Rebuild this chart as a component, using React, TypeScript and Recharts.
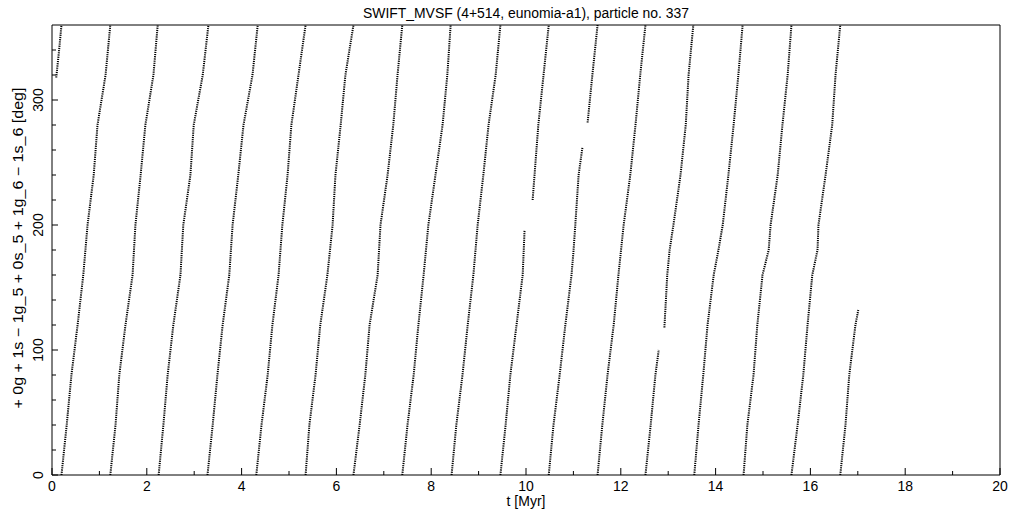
import React from 'react';
import { LineChart, Line, XAxis, YAxis } from 'recharts';

const DEG_A = [0, 40, 80, 120, 160, 200, 240, 280, 320, 360];
const DEG_B = [0, 40, 80, 120, 160, 180, 200, 240, 280, 320, 360];

// times (Myr) of each circulation stripe
const s0T = [0.09, 0.15, 0.2];
const s0D = [318, 340, 360];
const s1T = [0.2, 0.31, 0.41, 0.54, 0.66, 0.75, 0.88, 0.96, 1.13, 1.23];
const s2T = [1.23, 1.34, 1.42, 1.55, 1.7, 1.76, 1.87, 1.97, 2.14, 2.23];
const s3T = [2.25, 2.35, 2.44, 2.56, 2.71, 2.77, 2.92, 2.99, 3.18, 3.3];
const s4T = [3.28, 3.39, 3.49, 3.6, 3.74, 3.81, 3.93, 4.04, 4.23, 4.34];
const s5T = [4.31, 4.42, 4.55, 4.65, 4.78, 4.86, 4.97, 5.05, 5.2, 5.35];
const s6T = [5.35, 5.43, 5.56, 5.66, 5.81, 5.92, 5.98, 6.09, 6.19, 6.36];
const s7T = [6.36, 6.49, 6.61, 6.7, 6.87, 6.93, 7.08, 7.2, 7.29, 7.39];
const s8T = [7.39, 7.5, 7.63, 7.73, 7.84, 7.94, 8.09, 8.24, 8.34, 8.41];
const s9T = [8.43, 8.53, 8.66, 8.77, 8.89, 8.98, 9.1, 9.21, 9.36, 9.46];
const s10aT = [9.46, 9.57, 9.67, 9.8, 9.93, 9.97];
const s10aD = [0, 40, 80, 120, 160, 196];
const s10bT = [10.14, 10.18, 10.26, 10.37, 10.48];
const s10bD = [220, 240, 280, 320, 360];
const s11aT = [10.48, 10.58, 10.71, 10.83, 10.96, 11.0, 11.04, 11.11, 11.19];
const s11aD = [0, 40, 80, 120, 160, 178, 200, 240, 262];
const s11bT = [11.3, 11.4, 11.51];
const s11bD = [282, 320, 360];
const s12T = [11.51, 11.61, 11.72, 11.85, 11.95, 12.06, 12.2, 12.31, 12.41, 12.52];
const s13aT = [12.52, 12.63, 12.73, 12.8];
const s13aD = [0, 40, 80, 100];
const s13bT = [12.92, 12.98, 13.03, 13.11, 13.26, 13.37, 13.43, 13.53];
const s13bD = [118, 160, 180, 200, 240, 280, 320, 360];
const s14T = [13.55, 13.64, 13.74, 13.83, 13.96, 14.06, 14.15, 14.27, 14.38, 14.48, 14.57];
const s15T = [14.59, 14.67, 14.8, 14.88, 14.99, 15.12, 15.16, 15.31, 15.41, 15.52, 15.6];
const s16T = [15.6, 15.73, 15.85, 15.94, 16.04, 16.15, 16.17, 16.32, 16.46, 16.53, 16.63];
const s17T = [16.63, 16.74, 16.82, 16.95, 17.01];
const s17D = [0, 40, 80, 120, 132];

const X_TICKS = Array.from({ length: 21 }, (_, i) => i);
const Y_TICKS = Array.from({ length: 18 }, (_, i) => i * 20);

const segments: [number[], number[]][] = [
  [s0T, s0D], [s1T, DEG_A], [s2T, DEG_A], [s3T, DEG_A], [s4T, DEG_A],
  [s5T, DEG_A], [s6T, DEG_A], [s7T, DEG_A], [s8T, DEG_A], [s9T, DEG_A],
  [s10aT, s10aD], [s10bT, s10bD], [s11aT, s11aD], [s11bT, s11bD],
  [s12T, DEG_A], [s13aT, s13aD], [s13bT, s13bD], [s14T, DEG_B],
  [s15T, DEG_B], [s16T, DEG_B], [s17T, s17D],
];

const W = 1021;
const H = 511;
const PLOT = { left: 52, right: 1000, top: 25, bottom: 475 };
const FONT = '"Liberation Sans", Arial, sans-serif';

const BottomTick = (p: any) => {
  const v = p.payload.value;
  const major = v % 2 === 0;
  return (
    <g>
      <line x1={p.x} x2={p.x} y1={PLOT.bottom} y2={PLOT.bottom - (major ? 7 : 4)} stroke="#000" />
      {major && (
        <text x={p.x} y={PLOT.bottom + 16} textAnchor="middle" fontSize={14} fontFamily={FONT} fill="#000">
          {v}
        </text>
      )}
    </g>
  );
};

const TopTick = (p: any) => {
  const major = p.payload.value % 2 === 0;
  return <line x1={p.x} x2={p.x} y1={PLOT.top} y2={PLOT.top + (major ? 7 : 4)} stroke="#000" />;
};

const LeftTick = (p: any) => {
  const v = p.payload.value;
  const major = v % 100 === 0;
  const lx = PLOT.left - 14;
  return (
    <g>
      <line x1={PLOT.left} x2={PLOT.left + (major ? 6 : 4)} y1={p.y} y2={p.y} stroke="#000" />
      {major && (
        <text x={lx} y={p.y} transform={`rotate(-90 ${lx} ${p.y})`} textAnchor="middle" dominantBaseline="central"
          fontSize={14} fontFamily={FONT} fill="#000">
          {v}
        </text>
      )}
    </g>
  );
};

const RightTick = (p: any) => {
  const major = p.payload.value % 100 === 0;
  return <line x1={PLOT.right} x2={PLOT.right - (major ? 6 : 4)} y1={p.y} y2={p.y} stroke="#000" />;
};

export default function App() {
  const midX = (PLOT.left + PLOT.right) / 2;
  return (
    <div style={{ position: 'absolute', left: 0, top: 0, width: W, height: H, background: '#fff' }}>
      <LineChart width={W} height={H} margin={{ top: 24, right: 20, bottom: 6, left: 12 }}>
        <XAxis xAxisId="b" type="number" dataKey="t" domain={[0, 20]} ticks={X_TICKS} allowDataOverflow
          height={30} tick={BottomTick} tickLine={false} axisLine={{ stroke: '#000' }} interval={0} />
        <XAxis xAxisId="t" orientation="top" type="number" dataKey="t" domain={[0, 20]} ticks={X_TICKS}
          height={1} tick={TopTick} tickLine={false} axisLine={{ stroke: '#000' }} interval={0} />
        <YAxis yAxisId="l" type="number" dataKey="deg" domain={[0, 360]} ticks={Y_TICKS} allowDataOverflow
          width={40} tick={LeftTick} tickLine={false} axisLine={{ stroke: '#000' }} interval={0} />
        <YAxis yAxisId="r" orientation="right" type="number" dataKey="deg" domain={[0, 360]} ticks={Y_TICKS}
          width={1} tick={RightTick} tickLine={false} axisLine={{ stroke: '#000' }} interval={0} />
        {segments.map(([ts, ds], i) => (
          <Line
            key={i}
            xAxisId="b"
            yAxisId="l"
            data={ts.map((t, j) => ({ t, deg: ds[j] }))}
            dataKey="deg"
            type="linear"
            stroke="#000"
            strokeWidth={2}
            strokeDasharray="1.2 1"
            dot={false}
            activeDot={false}
            isAnimationActive={false}
          />
        ))}
      </LineChart>
      <svg width={W} height={H} style={{ position: 'absolute', left: 0, top: 0, pointerEvents: 'none' }}>
        <text x={midX} y={18} textAnchor="middle" fontSize={14} fontFamily={FONT} textLength={326}
          lengthAdjust="spacingAndGlyphs" fill="#000">
          SWIFT_MVSF (4+514, eunomia-a1), particle no. 337
        </text>
        <text x={midX} y={506} textAnchor="middle" fontSize={14} fontFamily={FONT} fill="#000">
          t [Myr]
        </text>
        <text x={23} y={248} transform="rotate(-90 23 248)" textAnchor="middle" fontSize={14} fontFamily={FONT}
          textLength={321} lengthAdjust="spacingAndGlyphs" fill="#000">
          + 0g + 1s − 1g_5 + 0s_5 + 1g_6 − 1s_6 [deg]
        </text>
      </svg>
    </div>
  );
}
